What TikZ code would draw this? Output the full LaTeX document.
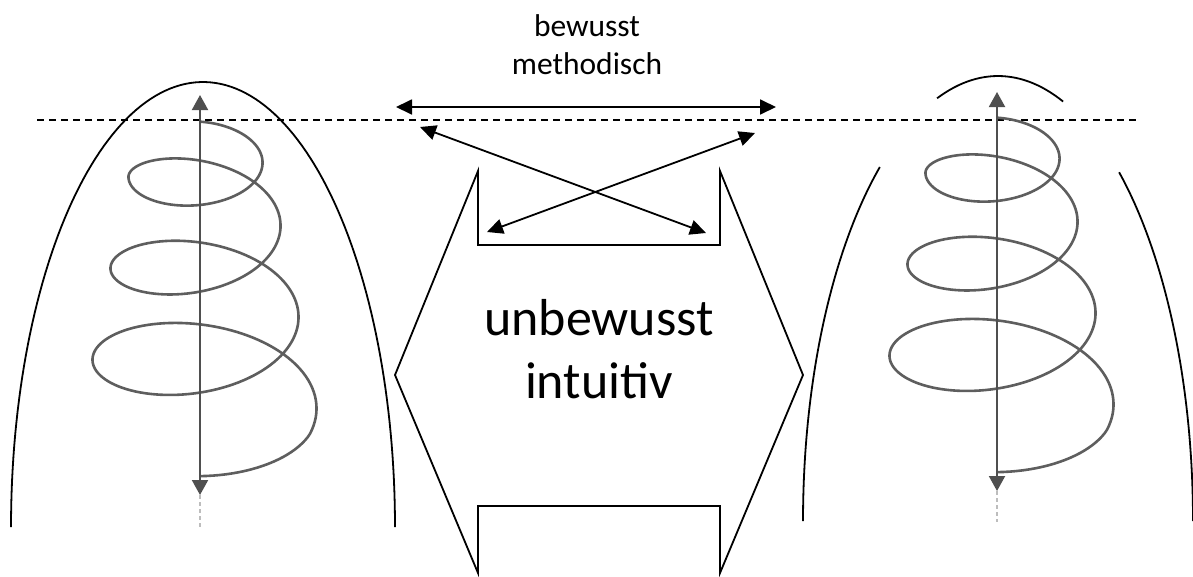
\documentclass[tikz,border=0pt]{standalone}
\usepackage{fontspec}
\setmainfont{Carlito}
\usetikzlibrary{arrows.meta}
\definecolor{spiralgray}{HTML}{5E5E5E}
\definecolor{axisgray}{HTML}{4F4F4F}
\definecolor{lightgray}{HTML}{BDBDBD}
\begin{document}
\begin{tikzpicture}[x=1pt,y=-1pt,
  outline/.style={line width=1.8pt, black},
  guide/.style={line width=1.6pt, black, dash pattern=on 7pt off 5pt},
  spiral/.style={line width=2.6pt, spiralgray, line join=round},
  axisline/.style={line width=2pt, axisgray, {Triangle[width=16pt,length=15pt]}-{Triangle[width=16pt,length=15pt]}},
  tail/.style={line width=2pt, lightgray, dash pattern=on 4pt off 3pt},
  dbl/.style={line width=1.8pt, black, {Triangle[width=15pt,length=16pt]}-{Triangle[width=15pt,length=16pt]}},
  small/.style={font=\fontsize{31.5}{38}\selectfont, anchor=base, inner sep=0pt},
  big/.style={font=\fontsize{52}{63}\selectfont, anchor=base, inner sep=0pt}]
\useasboundingbox (0,0) rectangle (1193,576);

% left arch (upper half ellipse)
\draw[outline] plot[domain=0:180, samples=120] ({203+192*cos(\x)}, {527-445*sin(\x)});
% right arch in three pieces
\draw[outline] plot[domain=70.5:108.2, samples=30] ({998+195*cos(\x)}, {521-445*sin(\x)});
\draw[outline] plot[domain=127.3:180, samples=60] ({998+195*cos(\x)}, {521-445*sin(\x)});
\draw[outline] plot[domain=0:51.6, samples=60] ({998+195*cos(\x)}, {521-445*sin(\x)});

% dashed level line
\coordinate (dl) at (37,120);
\coordinate (dr) at (1137,120);
\draw[guide] (dl) -- (dr);

% left spiral
\coordinate (Ltop) at (200,95);
\coordinate (Lbot) at (200,495);
\coordinate (Lend) at (200,527);
\draw[tail] (Lbot) -- (Lend);
\draw[spiral] plot[domain=0:1260, samples=400]
  ({200+(58+0.05*\x)*sin(\x)}, {min(max(152.4+0.0947*\x,109.4+0.254*\x),412)-0.53*(58+0.05*\x)*cos(\x)});
\draw[axisline] (Lbot) -- (Ltop);

% right spiral
\begin{scope}[shift={(797,-4)}]
\coordinate (Rtop) at (200,96);
\coordinate (Rbot) at (200,495);
\coordinate (Rend) at (200,526);
\draw[tail] (Rbot) -- (Rend);
\draw[spiral] plot[domain=0:1260, samples=400]
  ({200+(58+0.05*\x)*sin(\x)}, {min(max(152.4+0.0947*\x,109.4+0.254*\x),412)-0.53*(58+0.05*\x)*cos(\x)});
\draw[axisline] (Rbot) -- (Rtop);
\end{scope}

% central double-arrow outline
\draw[outline] (478,171) -- (478,245) -- (720,245) -- (720,171) -- (803,375) -- (720,573)
  -- (720,506) -- (478,506) -- (478,573) -- (395,375) -- cycle;

% arrows
\coordinate (hl) at (396,107);
\coordinate (hr) at (776,107);
\coordinate (a1) at (420,127);
\coordinate (a2) at (706,233);
\coordinate (b1) at (487,232);
\coordinate (b2) at (755,133);
\draw[dbl] (hl) -- (hr);
\draw[dbl] (a1) -- (a2);
\draw[dbl] (b1) -- (b2);

% texts
\node[small] (t1) at (587,36) {bewusst};
\node[small] (t2) at (587,74) {methodisch};
\node[big] (t3) at (599,335) {unbewusst};
\node[big] (t4) at (599,398) {intuitiv};
\end{tikzpicture}
\end{document}
